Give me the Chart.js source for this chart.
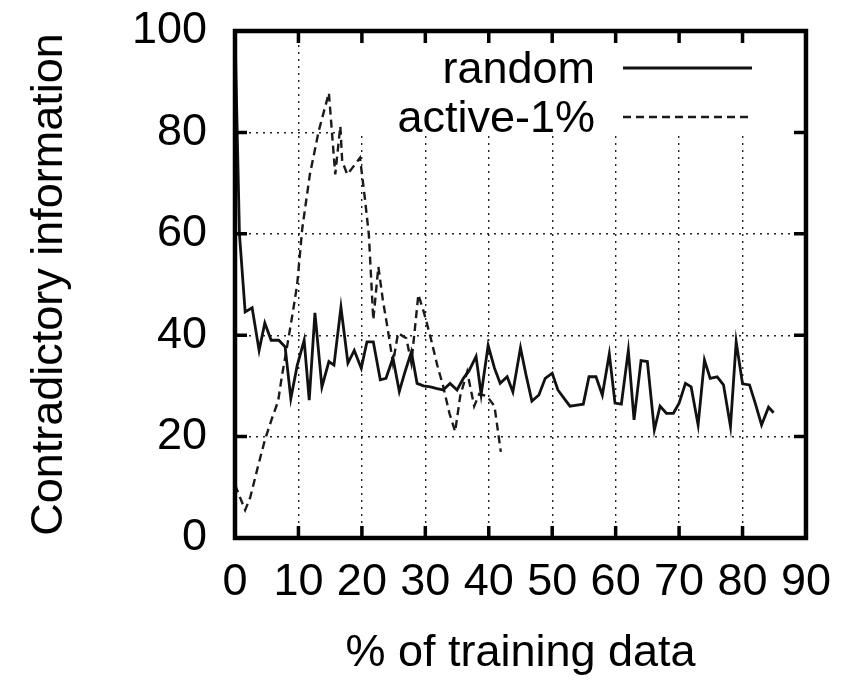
<!DOCTYPE html>
<html>
<head>
<meta charset="utf-8">
<script src="https://cdn.jsdelivr.net/npm/chart.js@4/dist/chart.umd.min.js"></script>
<style>
  html, body { margin: 0; padding: 0; background: #fff; }
  canvas { display: block; }
</style>
</head>
<body>
<canvas id="chart" width="849" height="681"></canvas>
<script>
// Series samples: x is the share of training data (%), y the contradictory information.
const randomX = [0, 0.7, 1.6, 2.7, 3.8, 4.7, 5.7, 6.9, 7.9, 8.8, 9.8, 10.9, 11.7, 12.6, 13.7, 14.8, 15.6,
  16.7, 17.8, 18.8, 19.9, 20.8, 21.8, 22.9, 23.8, 24.9, 25.9, 26.8, 27.8, 28.7, 29.7, 30.8, 31.7, 32.8,
  33.9, 35.0, 36.0, 36.9, 38.0, 38.8, 39.9, 40.9, 41.8, 42.9, 43.8, 45.0, 45.9, 46.8, 47.9, 48.9, 50.0,
  50.9, 51.9, 52.8, 53.9, 54.9, 55.8, 56.9, 57.9, 59.0, 59.9, 60.9, 62.0, 62.9, 64.0, 65.0, 66.1, 67.0,
  68.0, 69.1, 70.0, 71.0, 71.9, 73.0, 74.0, 74.9, 76.0, 77.0, 78.1, 79.0, 80.0, 81.1, 82.0, 83.0, 84.1, 84.9];
const randomY = [100, 60, 44.6, 45.4, 37, 42.4, 39, 39, 37.7, 27.5, 34, 39, 27.2, 44.4, 29.8, 34.8, 34.1,
  45.5, 34.5, 37, 33.5, 38.7, 38.7, 31.2, 31.5, 35.5, 28.9, 32.8, 36.7, 30.5, 30, 29.8, 29.5, 29.2,
  30.5, 29.2, 31.5, 33, 35.8, 28.3, 38, 33.5, 30.5, 31.8, 28.8, 37.5, 32, 27, 28.2, 31.5, 32.5,
  29.2, 27.5, 26, 26.2, 26.4, 31.8, 31.8, 28.2, 36.3, 26.6, 26.4, 37, 23.3, 35, 34.8, 21.3, 26,
  24.6, 24.6, 26.6, 30.5, 29.8, 22.3, 35.1, 31.5, 31.8, 30.2, 22, 38.7, 30.4, 30.2, 26.6, 22.3, 25.8, 24.7];

const activeX = [0, 1.6, 2.4, 3.6, 4.7, 5.8, 6.8, 7.4, 8.2, 9.1, 9.8, 10.6, 11.8, 13.2, 14.8, 15.8, 16.6,
  16.9, 17.7, 18.5, 19.7, 20.5, 21.1, 21.8, 22.6, 23.3, 24.1, 24.9, 25.7, 27.0, 27.8, 28.9, 29.8, 30.8,
  31.9, 32.8, 33.8, 34.7, 35.5, 36.6, 37.7, 38.5, 39.7, 40.9, 41.9];
const activeY = [10.5, 5.5, 8, 14, 19.3, 23.5, 27, 32, 37.7, 44.4, 50, 61, 71.7, 80.3, 87.8, 71.7, 81.2,
  74.3, 71.7, 73, 75, 66.7, 59.8, 43, 53.5, 47, 41, 34.5, 40.4, 39.4, 34.5, 48, 44.4, 39.7,
  34, 30, 24.6, 21, 28, 32.8, 26, 28.4, 28, 26, 17];

const seriesNames = ['random', 'active-1%'];
const xAxisTitle = '% of training data';
const yAxisTitle = 'Contradictory information';

const FONT = '"Liberation Sans", Arial, Helvetica, sans-serif';
const INK = '#000';

function points(xs, ys) {
  return ys.map((y, i) => ({ x: xs[i], y }));
}

// Opaque key area: hides the grid behind the legend, under the data lines.
const keyBackground = {
  id: 'keyBackground',
  beforeDatasetsDraw(chart) {
    const { ctx, chartArea: a } = chart;
    ctx.save();
    ctx.fillStyle = '#fff';
    ctx.fillRect(a.left + 110, a.top + 2, a.right - a.left - 112, 103);
    ctx.restore();
  }
};

// Heavy frame with inward tick marks on all four sides, plus the key.
const frameAndKey = {
  id: 'frameAndKey',
  afterDraw(chart) {
    const { ctx, chartArea: a, scales } = chart;
    const xs = scales.x, ys = scales.y;
    const tickLen = 12;
    ctx.save();
    ctx.strokeStyle = INK;
    ctx.lineCap = 'butt';
    ctx.lineWidth = 3.5;
    ctx.beginPath();
    xs.ticks.forEach(t => {
      if (t.value <= xs.min || t.value >= xs.max) return;
      const px = xs.getPixelForValue(t.value);
      ctx.moveTo(px, a.bottom); ctx.lineTo(px, a.bottom - tickLen);
      ctx.moveTo(px, a.top); ctx.lineTo(px, a.top + tickLen);
    });
    ys.ticks.forEach(t => {
      if (t.value <= ys.min || t.value >= ys.max) return;
      const py = ys.getPixelForValue(t.value);
      ctx.moveTo(a.left, py); ctx.lineTo(a.left + tickLen, py);
      ctx.moveTo(a.right, py); ctx.lineTo(a.right - tickLen, py);
    });
    ctx.stroke();
    ctx.lineWidth = 4.5;
    ctx.strokeRect(a.left, a.top, a.right - a.left, a.bottom - a.top);

    // key entries: label right-aligned, then a sample of the line style
    ctx.font = '45px ' + FONT;
    ctx.fillStyle = INK;
    ctx.textAlign = 'right';
    ctx.textBaseline = 'alphabetic';
    const textRight = a.left + 360;
    const sampleL = a.left + 388, sampleR = a.left + 517;
    chart.data.datasets.forEach((ds, i) => {
      const base = a.top + 52 + i * 49;
      ctx.fillText(ds.label, textRight, base);
      const ly = base - 15;
      ctx.lineWidth = ds.borderWidth;
      ctx.strokeStyle = ds.borderColor;
      ctx.setLineDash(ds.borderDash || []);
      ctx.beginPath();
      ctx.moveTo(sampleL, ly);
      ctx.lineTo(sampleR, ly);
      ctx.stroke();
      ctx.setLineDash([]);
    });
    ctx.restore();
  }
};

new Chart(document.getElementById('chart'), {
  type: 'line',
  data: {
    datasets: [
      {
        label: seriesNames[0],
        data: points(randomX, randomY),
        borderColor: '#111',
        borderWidth: 2.8,
        pointRadius: 0,
        tension: 0,
        fill: false
      },
      {
        label: seriesNames[1],
        data: points(activeX, activeY),
        borderColor: '#1a1a1a',
        borderWidth: 2.4,
        borderDash: [8, 5],
        pointRadius: 0,
        tension: 0,
        fill: false
      }
    ]
  },
  options: {
    responsive: false,
    animation: false,
    devicePixelRatio: 1,
    layout: { padding: { top: 31, right: 43, bottom: 0, left: 0 } },
    plugins: {
      legend: { display: false },
      tooltip: { enabled: false }
    },
    scales: {
      x: {
        type: 'linear',
        min: 0,
        max: 90,
        afterFit(scale) { scale.height = 143; },
        ticks: {
          stepSize: 10,
          autoSkip: false,
          maxRotation: 0,
          padding: 18,
          color: INK,
          font: { family: FONT, size: 45 }
        },
        grid: {
          drawTicks: false,
          color: '#222',
          lineWidth: 1.4,
          borderDash: [2, 5]
        },
        border: { display: false, dash: [2, 5] },
        title: {
          display: true,
          text: xAxisTitle,
          color: INK,
          font: { family: FONT, size: 45 },
          padding: { top: 0, bottom: 0 }
        }
      },
      y: {
        min: 0,
        max: 100,
        afterFit(scale) {
          scale.width = 235;
          scale.paddingTop = 0;
          scale.paddingBottom = 0;
        },
        ticks: {
          stepSize: 20,
          padding: 28,
          color: INK,
          font: { family: FONT, size: 45 }
        },
        grid: {
          drawTicks: false,
          color: '#222',
          lineWidth: 1.4
        },
        border: { display: false, dash: [2, 5] },
        title: {
          display: true,
          text: yAxisTitle,
          color: INK,
          font: { family: FONT, size: 45 },
          padding: { top: 23, bottom: 0 }
        }
      }
    }
  },
  plugins: [keyBackground, frameAndKey]
});
</script>
</body>
</html>
